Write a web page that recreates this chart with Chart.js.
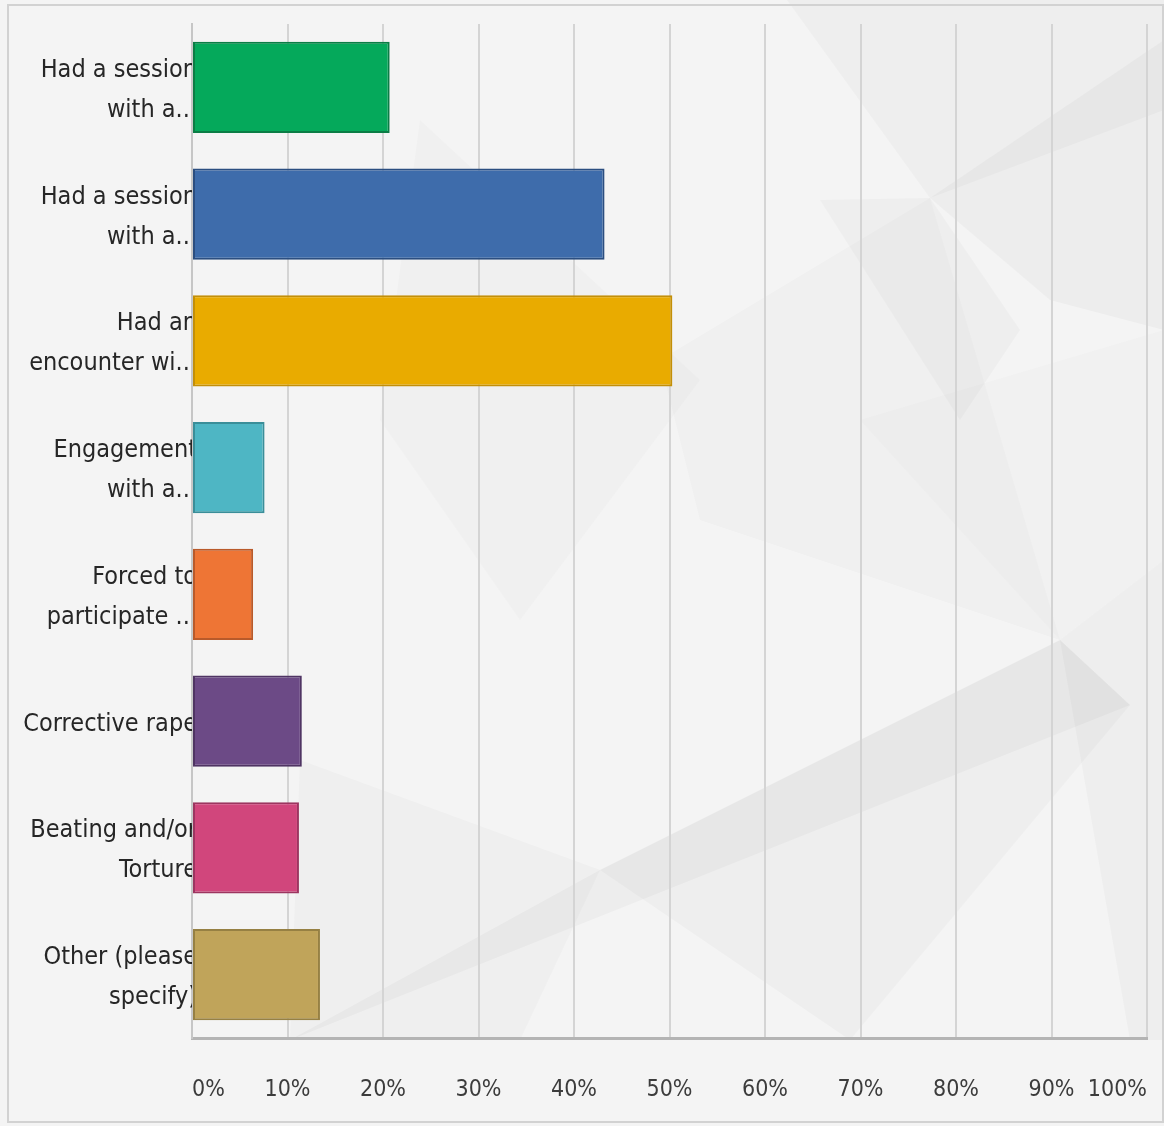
<!DOCTYPE html>
<html>
<head>
<meta charset="utf-8">
<title>Experiences reported</title>
<script src="https://cdn.jsdelivr.net/npm/chart.js@4/dist/chart.umd.min.js"></script>
<style>
  html, body { margin: 0; padding: 0; background: #f4f4f4; }
  #wrap { width: 1164px; height: 1126px; }
  canvas { display: block; filter: blur(0.6px); }
</style>
</head>
<body>
<div id="wrap"><canvas id="chart" width="1164" height="1126"></canvas></div>
<script>
// Answer options (truncated as in the survey tool)
const categories = [
  ["Had a session", "with a..."],
  ["Had a session", "with a..."],
  ["Had an", "encounter wi..."],
  ["Engagement", "with a..."],
  ["Forced to", "participate ..."],
  "Corrective rape",
  ["Beating and/or", "Torture"],
  ["Other (please", "specify)"]
];

// Share of respondents, percent
const responses = [20.7, 43.2, 50.3, 7.6, 6.4, 11.5, 11.2, 13.4];

// Axis ticks
const tickValues = [0, 10, 20, 30, 40, 50, 60, 70, 80, 90, 100];

const fillColors = ["#05a95b", "#3e6cab", "#e9ab00", "#4eb6c4", "#ee7535", "#6c4a86", "#d1467c", "#c0a45a"];
const edgeColors = ["#0b7d45", "#2b4e80", "#c38f08", "#3a8e99", "#b95a2a", "#4f3463", "#9c3560", "#968043"];

// Soft grey facets painted behind the chart
const facetPlugin = {
  id: "facets",
  beforeDraw(chart) {
    const ctx = chart.ctx;
    ctx.save();
    ctx.fillStyle = "#f4f4f4";
    ctx.fillRect(0, 0, chart.width, chart.height);
    const shapes = [
      { a: 0.035, p: [[787, 0], [1164, 0], [1164, 110], [930, 198]] },
      { a: 0.045, p: [[930, 198], [1164, 40], [1164, 330], [1050, 300]] },
      { a: 0.035, p: [[820, 200], [930, 198], [1020, 330], [960, 420]] },
      { a: 0.025, p: [[660, 360], [930, 198], [1060, 640], [700, 520]] },
      { a: 0.045, p: [[290, 1040], [1130, 705], [1060, 640], [600, 870]] },
      { a: 0.035, p: [[600, 870], [1060, 640], [1130, 705], [850, 1040]] },
      { a: 0.035, p: [[1060, 640], [1164, 560], [1164, 1040], [1130, 1040]] },
      { a: 0.03, p: [[300, 760], [600, 870], [520, 1040], [290, 1040]] },
      { a: 0.025, p: [[420, 120], [700, 380], [520, 620], [380, 420]] },
      { a: 0.02, p: [[860, 420], [1164, 330], [1164, 560], [1060, 640]] }
    ];
    shapes.forEach(s => {
      ctx.fillStyle = "rgba(90,90,90," + s.a + ")";
      ctx.beginPath();
      s.p.forEach((pt, i) => (i ? ctx.lineTo(pt[0], pt[1]) : ctx.moveTo(pt[0], pt[1])));
      ctx.closePath();
      ctx.fill();
    });
    // outer frame
    ctx.strokeStyle = "#d2d2d2";
    ctx.lineWidth = 2;
    ctx.strokeRect(8, 5, 1155, 1117);
    ctx.restore();
  }
};

const labelFont = "'Liberation Sans Narrow', 'DejaVu Sans Condensed', 'Roboto', sans-serif";

new Chart(document.getElementById("chart"), {
  type: "bar",
  data: {
    labels: categories,
    datasets: [{
      data: responses,
      backgroundColor: fillColors,
      borderColor: edgeColors,
      borderWidth: 2,
      borderSkipped: false,
      categoryPercentage: 1,
      barPercentage: 0.72
    }]
  },
  options: {
    indexAxis: "y",
    responsive: false,
    animation: false,
    layout: { padding: { left: 0, right: 17, top: 24, bottom: 0 } },
    plugins: {
      legend: { display: false },
      tooltip: { enabled: false }
    },
    scales: {
      x: {
        min: 0,
        max: 100,
        afterBuildTicks(scale) {
          scale.ticks = tickValues.map(v => ({ value: v }));
        },
        afterFit(scale) {
          scale.height = 88;
          scale.paddingLeft = 0;
          scale.paddingRight = 0;
        },
        grid: { color: "#d4d4d4", lineWidth: 2, drawTicks: false },
        border: { display: true, color: "#b4b4b4", width: 3 },
        ticks: {
          align: "inner",
          padding: 38,
          color: "#3c3c3c",
          font: { family: labelFont, size: 23 },
          callback: v => v + "%"
        }
      },
      y: {
        afterFit(scale) {
          scale.width = 192;
          scale.paddingTop = 0;
          scale.paddingBottom = 0;
        },
        grid: { display: false, drawTicks: false },
        border: { display: true, color: "#c6c6c6", width: 2 },
        ticks: {
          padding: -5,
          labelOffset: 3,
          color: "#262626",
          font: { family: labelFont, size: 25, lineHeight: 1.6 }
        }
      }
    }
  },
  plugins: [facetPlugin]
});
</script>
</body>
</html>
